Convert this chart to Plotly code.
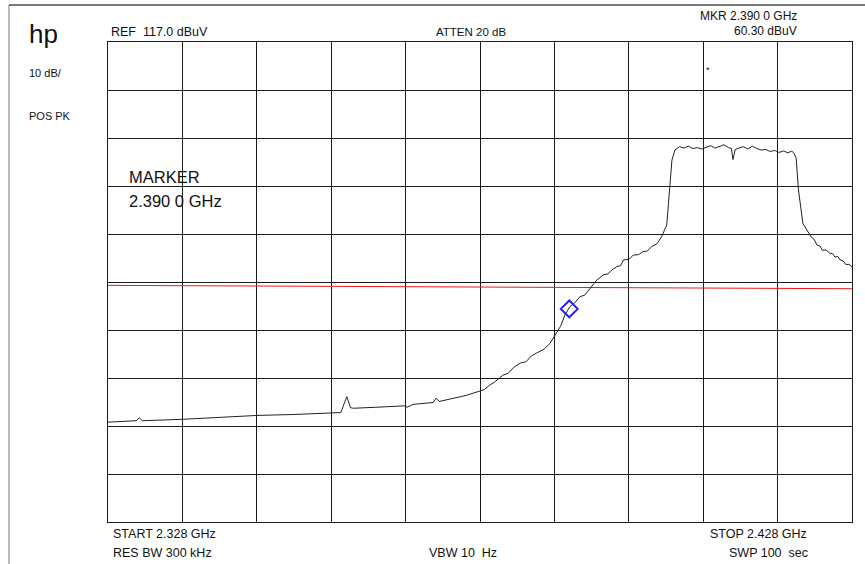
import plotly.graph_objects as go

# ---- data ----
freq_ghz = [2.3280, 2.3300, 2.3318, 2.3322, 2.3326, 2.3381, 2.3430, 2.3480, 2.3530,
            2.3583, 2.3593, 2.3597, 2.3601, 2.3606, 2.3610, 2.3640, 2.3679, 2.3682,
            2.3690, 2.3717, 2.3721, 2.3725, 2.3744, 2.3762, 2.3780, 2.3786, 2.3793,
            2.3800, 2.3811, 2.3818, 2.3826, 2.3834, 2.3842, 2.3849, 2.3856, 2.3866,
            2.3874, 2.3881, 2.3888, 2.3894, 2.3901, 2.3907, 2.3914, 2.3921, 2.3928,
            2.3933, 2.3937, 2.3946, 2.3952, 2.3958, 2.3964, 2.3969, 2.3973, 2.3980,
            2.3986, 2.3993, 2.3999, 2.4005, 2.4011, 2.4018, 2.4024, 2.4031,
            2.4034, 2.4038, 2.4042, 2.4048, 2.4054, 2.4060, 2.4066, 2.4072, 2.4078,
            2.4084, 2.4090, 2.4096, 2.4102, 2.4108, 2.4114, 2.4118, 2.4120, 2.4123,
            2.4128, 2.4134, 2.4140, 2.4146, 2.4152, 2.4158, 2.4164, 2.4170, 2.4176,
            2.4182, 2.4188, 2.4194, 2.4199, 2.4202, 2.4205, 2.4208, 2.4214, 2.4220,
            2.4225, 2.4229, 2.4233, 2.4237, 2.4240, 2.4245, 2.4250, 2.4254, 2.4257,
            2.4261, 2.4264, 2.4268, 2.4272, 2.4276, 2.4280]
level_dbuv = [37.8, 38.0, 38.1, 38.7, 38.1, 38.4, 38.8, 39.2, 39.4,
              39.7, 39.8, 41.5, 43.1, 40.8, 40.7, 40.9, 41.2, 40.9,
              41.5, 41.9, 42.8, 42.1, 42.7, 43.4, 44.3, 44.6, 45.5,
              46.2, 47.6, 48.0, 49.3, 50.1, 50.4, 51.6, 52.2, 53.0,
              54.2, 56.0, 57.7, 60.1, 61.9, 62.6, 63.9, 64.3, 65.7,
              66.6, 67.4, 68.5, 68.7, 69.6, 70.2, 70.4, 71.6, 71.7,
              72.6, 72.7, 73.3, 73.5, 74.4, 75.0, 76.4, 78.9,
              84.8, 92.4, 94.5, 95.2, 94.9, 95.3, 94.8, 95.0, 94.7,
              95.1, 95.4, 94.9, 95.2, 95.6, 95.0, 94.8, 92.5, 94.6,
              94.9, 95.2, 94.7, 95.3, 94.8, 94.5, 94.6, 94.2, 94.4,
              94.0, 94.3, 93.9, 94.3, 93.8, 92.8, 86.2, 79.2, 77.5,
              76.4, 75.9, 74.7, 74.5, 73.6, 73.7, 73.0, 72.9, 72.2,
              72.3, 71.6, 71.4, 70.6, 70.7, 70.1]

limit_freq = [2.328, 2.378, 2.428]
limit_level = [66.3, 65.9, 65.6]

marker_freq = [2.390]
marker_level = [61.4]

x_range = [2.328, 2.428]
y_range = [17, 117]

FONT = "Liberation Sans, Arial, Helvetica, sans-serif"

fig = go.Figure()
fig.add_trace(go.Scatter(x=limit_freq, y=limit_level, mode="lines",
                         line=dict(color="#e8191c", width=1), hoverinfo="skip"))
fig.add_trace(go.Scatter(x=freq_ghz, y=level_dbuv, mode="lines",
                         line=dict(color="#222222", width=1)))
fig.add_trace(go.Scatter(x=marker_freq, y=marker_level, mode="markers",
                         marker=dict(symbol="diamond-open", size=13, color="#1f1fff",
                                     line=dict(width=2, color="#1f1fff"))))

axis_common = dict(showgrid=True, gridcolor="#1a1a1a", gridwidth=1, showticklabels=False,
                   ticks="", zeroline=False, showline=True, linecolor="#1a1a1a",
                   linewidth=1, mirror=True)
fig.update_xaxes(range=x_range, tick0=2.328, dtick=0.01, **axis_common)
fig.update_yaxes(range=y_range, tick0=17, dtick=10, **axis_common)

L, R, T, B = 108, 13, 42, 42
W, H = 865, 564
pw, ph = W - L - R, H - T - B

def px(xp):
    return (xp - L) / pw

def py(yp):
    return (H - B - yp) / ph

def txt(x, y, s, size=12, anchor="left"):
    fig.add_annotation(x=px(x), y=py(y), xref="paper", yref="paper", text=s,
                       showarrow=False, xanchor=anchor, yanchor="middle",
                       font=dict(family=FONT, size=size, color="#111111"))

txt(27, 34, "hp", size=26)
txt(27, 73, "10 dB/", size=11)
txt(27, 116, "POS PK", size=11)
txt(109, 32, "REF  117.0 dBuV", size=12.5)
txt(471, 32, "ATTEN 20 dB", size=11.5, anchor="center")
txt(799, 16, "MKR 2.390 0 GHz", size=12, anchor="right")
txt(799, 31, "60.30 dBuV", size=12, anchor="right")
txt(708, 70, "*", size=9, anchor="center")
txt(127, 177, "MARKER", size=16.5)
txt(127, 201, "2.390 0 GHz", size=16.5)
txt(111, 534, "START 2.328 GHz", size=12.5)
txt(809, 534, "STOP 2.428 GHz", size=12.5, anchor="right")
txt(111, 553, "RES BW 300 kHz", size=12.5)
txt(463, 553, "VBW 10  Hz", size=12.5, anchor="center")
txt(810, 553, "SWP 100  sec", size=12.5, anchor="right")

# outer frame lines (top and left)
fig.add_shape(type="line", xref="paper", yref="paper", x0=px(9), x1=px(866),
              y0=py(5), y1=py(5), line=dict(color="#777777", width=2))
fig.add_shape(type="line", xref="paper", yref="paper", x0=px(9), x1=px(9),
              y0=py(5), y1=py(565), line=dict(color="#777777", width=1))

fig.update_layout(width=W, height=H, margin=dict(l=L, r=R, t=T, b=B),
                  paper_bgcolor="white", plot_bgcolor="white", showlegend=False,
                  hovermode=False)

fig.write_html("out.html", config={"displayModeBar": False},
               post_script="document.body.style.margin='0';document.body.style.overflow='hidden';")
